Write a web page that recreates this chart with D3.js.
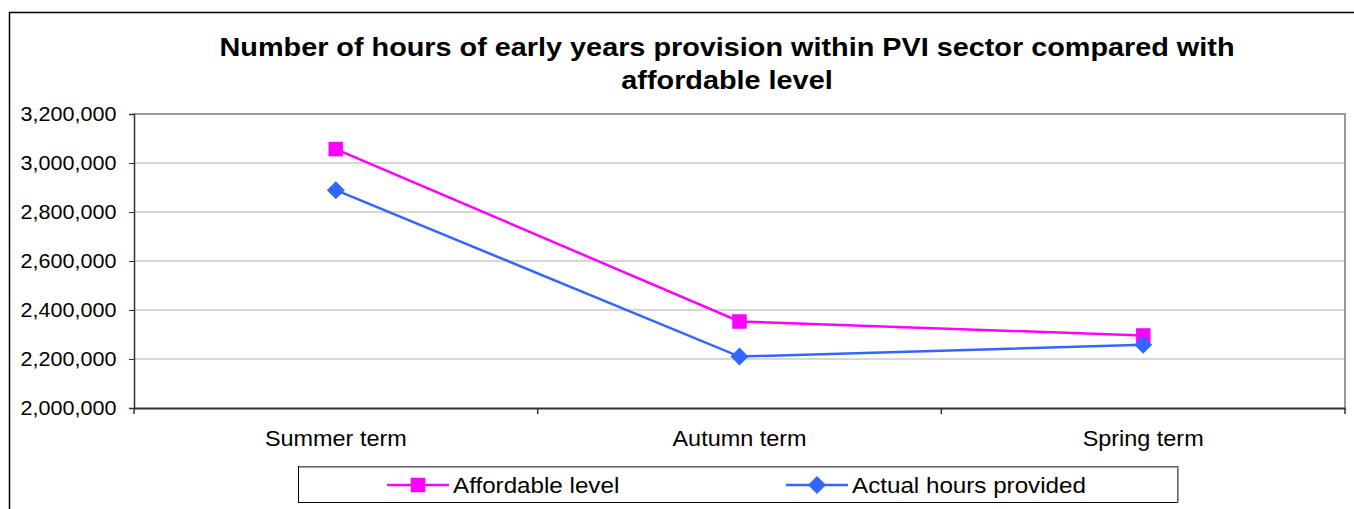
<!DOCTYPE html>
<html>
<head>
<meta charset="utf-8">
<script src="https://cdn.jsdelivr.net/npm/d3@7"></script>
<style>
  body { margin: 0; background: #fff; }
  svg { display: block; font-family: "Liberation Sans", Arial, sans-serif; }
</style>
</head>
<body>
<svg id="chart" width="1354" height="509"></svg>
<script>
// data
var terms = ["Summer term", "Autumn term", "Spring term"]
var affordable = [3057000, 2353000, 2296000]
var actual = [2889000, 2210000, 2258000]
var yTicks = [2000000, 2200000, 2400000, 2600000, 2800000, 3000000, 3200000]
var titleLines = ["Number of hours of early years provision within PVI sector compared with", "affordable level"]

var series = [
  {name: "Affordable level", values: affordable, color: "#ff00ff", marker: "square"},
  {name: "Actual hours provided", values: actual, color: "#3366ff", marker: "diamond"}
]

var svg = d3.select("#chart")
var plotL = 134, plotR = 1345, plotT = 114, plotB = 408
var stretch = 1.1 // the original text looks a bit wide

// outer chart border
svg.append("rect").attr("x", 9.5).attr("y", 12.5).attr("width", 1400).attr("height", 600)
   .attr("fill", "none").attr("stroke", "#000").attr("stroke-width", 1.5)

// title
svg.append("g").selectAll("text").data(titleLines).enter().append("text")
   .attr("transform", (d, i) => `translate(727,${56 + i * 33}) scale(${stretch},1)`)
   .attr("text-anchor", "middle").attr("font-size", "26.2px").attr("font-weight", "bold")
   .text(d => d)

var x = d3.scaleBand().domain(terms).range([plotL, plotR])
var y = d3.scaleLinear().domain([2000000, 3200000]).range([plotB, plotT])

// gridlines
svg.append("g").selectAll("line").data(yTicks.slice(1)).enter().append("line")
   .attr("x1", plotL).attr("x2", plotR)
   .attr("y1", d => y(d)).attr("y2", d => y(d))
   .attr("stroke", "#b0b0b0").attr("stroke-width", 1.2)

// plot border top/right
svg.append("path").attr("d", `M${plotL},${plotT}H${plotR}V${plotB}`)
   .attr("fill", "none").attr("stroke", "#999").attr("stroke-width", 2)

// y axis
var yAxis = svg.append("g").attr("transform", `translate(${plotL},0)`)
   .call(d3.axisLeft(y).tickValues(yTicks).tickSize(5).tickPadding(11).tickFormat(d3.format(",")))
yAxis.selectAll("text").attr("font-size", "19.6px").attr("fill", "#000")
   .attr("font-family", "Liberation Sans, Arial, sans-serif").attr("transform", `scale(${stretch},1)`)
yAxis.select(".domain").attr("stroke", "#333").attr("stroke-width", 1.5)
yAxis.selectAll(".tick line").attr("stroke", "#333")

// x axis with ticks at category boundaries
var xAxis = svg.append("g").attr("transform", `translate(0,${plotB})`)
   .call(d3.axisBottom(x).tickSize(0).tickPadding(23))
xAxis.selectAll("text").attr("font-size", "21.3px").attr("fill", "#000")
   .attr("font-family", "Liberation Sans, Arial, sans-serif").attr("transform", `scale(${stretch},1)`)
xAxis.select(".domain").attr("stroke", "#333").attr("stroke-width", 2)
var bounds = terms.map(t => x(t)).concat([plotR])
xAxis.selectAll("line.bound").data(bounds).enter().append("line").attr("class", "bound")
   .attr("x1", d => d).attr("x2", d => d).attr("y1", 0).attr("y2", 6)
   .attr("stroke", "#333").attr("stroke-width", 1.5)

var cx = t => x(t) + x.bandwidth() / 2
var line = d3.line().x((d, i) => cx(terms[i])).y(d => y(d))

function drawMarker(g, type, color, px, py, s) {
  if (type == "square") {
    g.append("rect").attr("x", px - s).attr("y", py - s).attr("width", 2 * s).attr("height", 2 * s)
     .attr("fill", color).attr("stroke", color).attr("stroke-width", 0.5)
  } else {
    g.append("path").attr("d", `M0,${-s}L${s},0L0,${s}L${-s},0Z`)
     .attr("transform", `translate(${px},${py})`)
     .attr("fill", color)
  }
}

series.forEach(function(s) {
  var g = svg.append("g")
  g.append("path").datum(s.values).attr("d", line)
   .attr("fill", "none").attr("stroke", s.color).attr("stroke-width", 2.5)
  s.values.forEach(function(v, i) {
    drawMarker(g, s.marker, s.color, cx(terms[i]), y(v), s.marker == "square" ? 7 : 9)
  })
})

// legend
var lg = svg.append("g")
lg.append("rect").attr("x", 298.5).attr("y", 466.5).attr("width", 879).attr("height", 36)
  .attr("fill", "#fff").attr("stroke", "#000").attr("stroke-width", 1)
lg.append("path").attr("d", "M299,467H1178V503").attr("fill", "none").attr("stroke", "#888").attr("stroke-width", 1.5)
var legendX = [387, 786]
series.forEach(function(s, i) {
  var lx = legendX[i], ly = 485
  lg.append("line").attr("x1", lx).attr("x2", lx + 62).attr("y1", ly).attr("y2", ly)
    .attr("stroke", s.color).attr("stroke-width", 2.5)
  drawMarker(lg, s.marker, s.color, lx + 31, ly, s.marker == "square" ? 7 : 9)
  lg.append("text").attr("transform", `translate(${lx + 66},${ly + 8}) scale(${stretch},1)`)
    .attr("font-size", "22px").text(s.name)
})
</script>
</body>
</html>
